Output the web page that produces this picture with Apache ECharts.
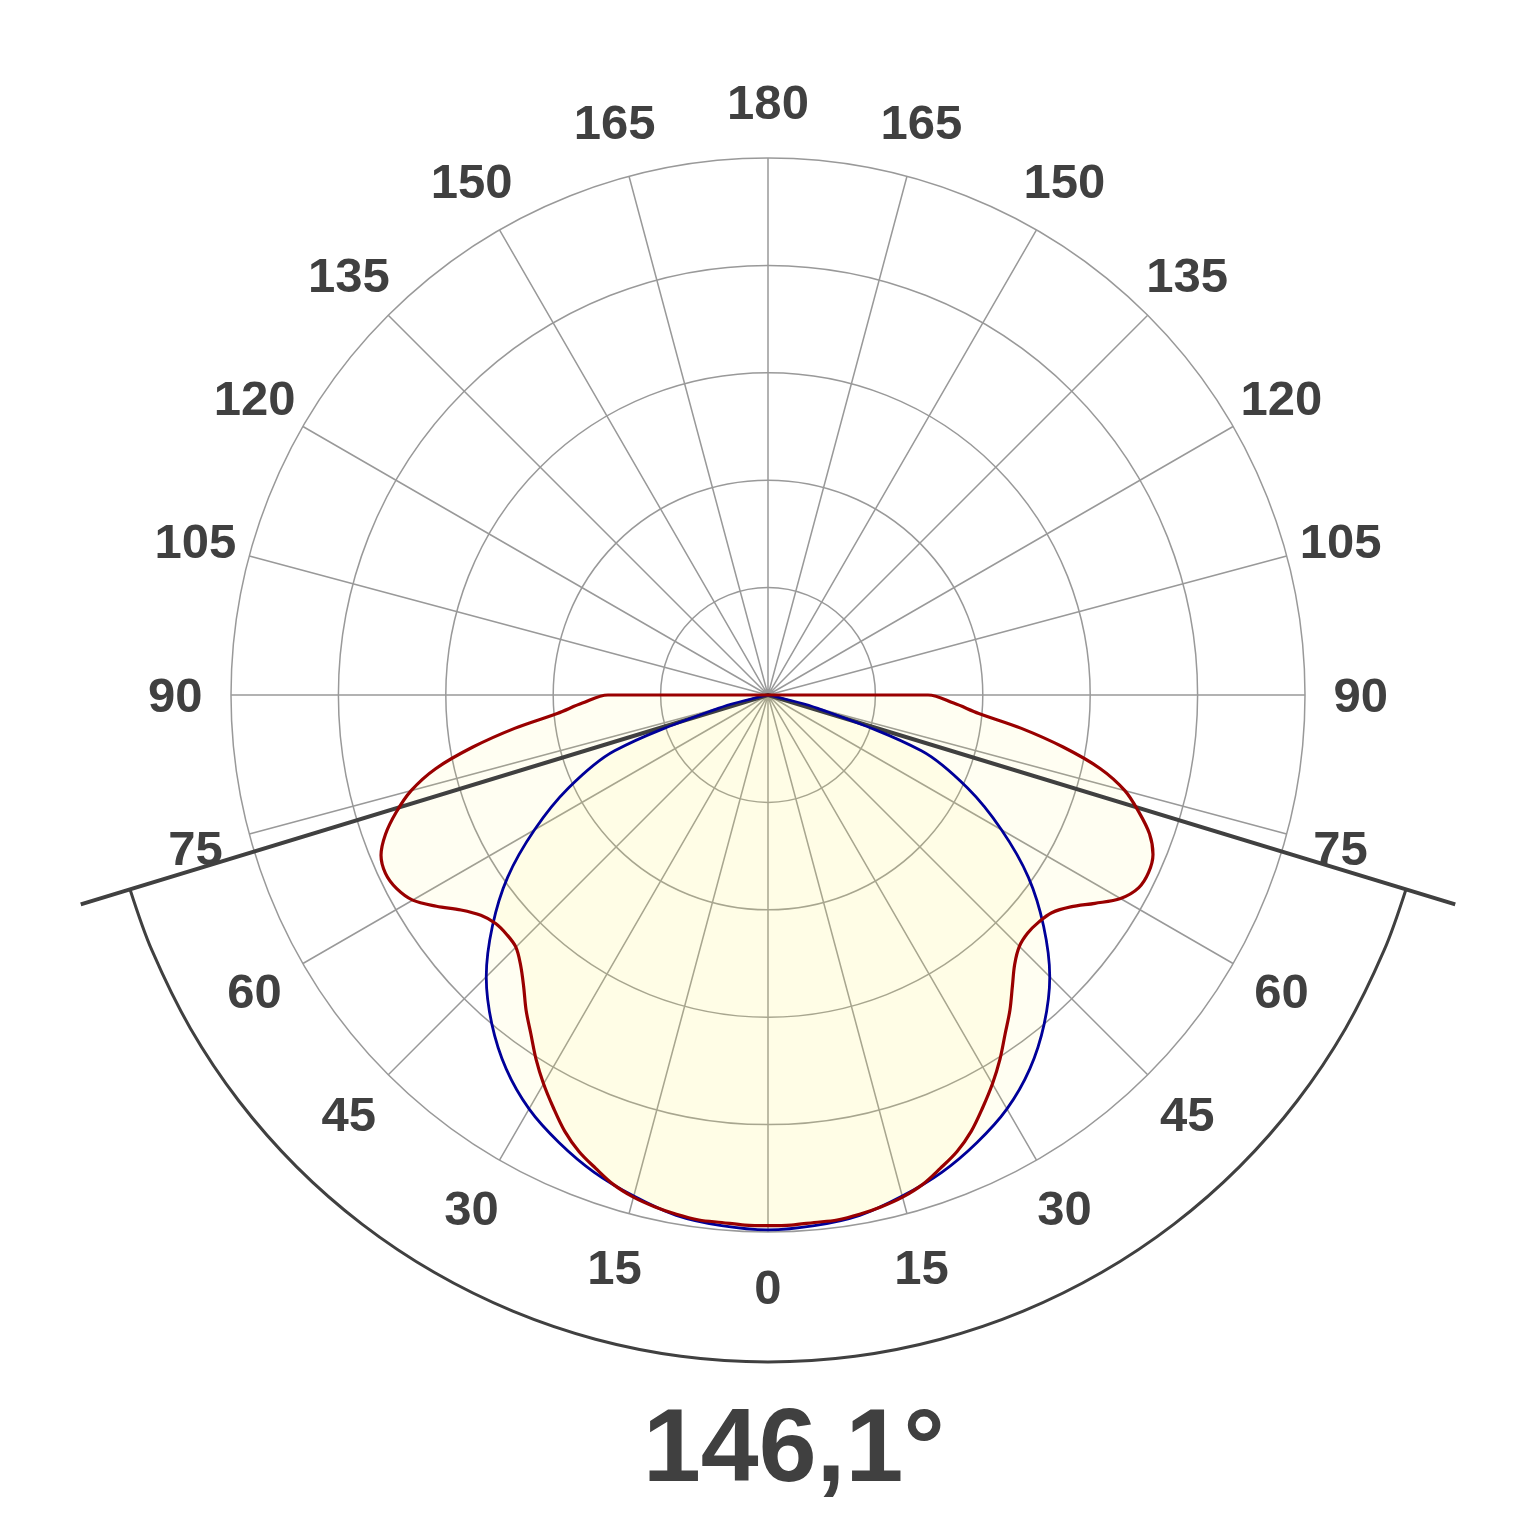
<!DOCTYPE html>
<html>
<head>
<meta charset="utf-8">
<title>光强分布曲线</title>
<script src="https://cdn.jsdelivr.net/npm/echarts@6/dist/echarts.min.js"></script>
<style>
html, body { margin: 0; padding: 0; background: #fff; }
#main { width: 1536px; height: 1536px; }
</style>
</head>
<body>
<div id="main"></div>
<script>
// 光束角
const beamAngle = 146.1

// 红线 C0/C180 平面, gamma 每 2.5°
const gammaRed = [0, 2.5, 5, 7.5, 10, 12.5, 15, 17.5, 20, 22.5, 25, 27.5, 30, 32.5, 35, 37.5, 40, 42.5, 45,
  47.5, 50, 52.5, 55, 57.5, 60, 62.5, 65, 67.5, 70, 72.5, 75, 77.5, 80, 82.5, 85, 87.5, 90]
const c0Values = [494, 494, 493, 493, 491, 488, 484, 478, 469, 460, 448, 433, 418, 402, 385, 370, 354, 341, 332,
  330, 331, 337, 349, 366, 382, 390, 393, 390, 379, 363, 344, 317, 279, 238, 197, 173, 149]
const c180Values = [494, 494, 493, 493, 491, 488, 484, 478, 469, 460, 448, 433, 418, 402, 385, 370, 354, 340, 331,
  328, 329, 333, 344, 361, 379, 389, 391, 388, 378, 362, 344, 317, 279, 238, 197, 173, 149]

// 蓝线 C90/C270 平面, gamma 每 5°
const gammaBlue = [0, 5, 10, 15, 20, 25, 30, 35, 40, 45, 50, 55, 60, 65, 70, 75, 80, 85, 90]
const c90Values = [498, 496, 492, 483, 473, 460, 445, 425, 400, 371, 335, 296, 251, 205, 152, 48, 0, 0, 0]
const c270Values = [498, 496, 492, 483, 473, 460, 445, 425, 400, 371, 335, 296, 251, 205, 152, 48, 0, 0, 0]

// 角度刻度
const angleTicks = [0, 15, 30, 45, 60, 75, 90, 105, 120, 135, 150, 165, 180, 195, 210, 225, 240, 255, 270, 285, 300, 315, 330, 345]
const angleLabels = ['0', '15', '30', '45', '60', '75', '90', '105', '120', '135', '150', '165', '180',
  '165', '150', '135', '120', '105', '90', '75', '60', '45', '30', '15']

const arcRadius = 621 // 光束角弧线
const beamLineLength = 669
const labelRadius = 552

// 左半边角度 = gamma, 右半边角度 = 360 - gamma
function buildCurve(gammas, leftValues, rightValues) {
  let points = [[0, 270]]
  for (let i = gammas.length - 1; i > 0; i--) {
    points.push([rightValues[i], 360 - gammas[i]])
  }
  gammas.forEach((g, i) => {
    points.push([leftValues[i], g])
  })
  points.push([0, 90])
  return points
}

const half = beamAngle / 2
const arcAngles = [360 - half, 292.5, 300, 307.5, 315, 322.5, 330, 337.5, 345, 352.5, 360,
  7.5, 15, 22.5, 30, 37.5, 45, 52.5, 60, 67.5, half]

const gridStyle = { color: '#999', width: 1.5 }
const fillColor = 'rgba(255, 240, 90, 0.11)'

let option = {
  animation: false,
  backgroundColor: '#fff',
  title: {
    text: String(beamAngle).replace('.', ',') + '°',
    left: 643,
    top: 1400,
    padding: 0,
    textStyle: { fontSize: 104, fontWeight: 'bold', color: '#404040', fontFamily: 'Liberation Sans' }
  },
  polar: [
    { center: [768, 695], radius: 537 },
    { center: [768, 695], radius: 719 }
  ],
  angleAxis: [
    {
      polarIndex: 0, type: 'value', min: 0, max: 360, interval: 15,
      startAngle: 270, clockwise: true,
      axisLine: { show: false }, axisTick: { show: false }, axisLabel: { show: false },
      splitLine: { show: true, lineStyle: gridStyle }
    },
    {
      polarIndex: 1, type: 'value', min: 0, max: 360, interval: 15,
      startAngle: 270, clockwise: true, show: false
    }
  ],
  radiusAxis: [
    {
      polarIndex: 0, type: 'value', min: 0, max: 500, interval: 100,
      axisLine: { show: false }, axisTick: { show: false }, axisLabel: { show: false },
      splitLine: { show: true, lineStyle: gridStyle }
    },
    { polarIndex: 1, type: 'value', min: 0, max: 669.5, show: false }
  ],
  series: [
    {
      // 光束角线
      type: 'line', coordinateSystem: 'polar', polarIndex: 1,
      symbol: 'none', silent: true,
      lineStyle: { color: '#404040', width: 4 },
      data: [[beamLineLength, 360 - half], [0, 0], [beamLineLength, half]]
    },
    {
      type: 'line', coordinateSystem: 'polar', polarIndex: 1,
      symbol: 'none', silent: true, smooth: 0.33,
      lineStyle: { color: '#404040', width: 3 },
      data: arcAngles.map(a => [arcRadius, a])
    },
    {
      // 角度标签
      type: 'scatter', coordinateSystem: 'polar', polarIndex: 1,
      symbolSize: 0, silent: true,
      itemStyle: { color: '#404040' },
      label: {
        show: true, position: 'inside', offset: [0, 3],
        formatter: p => angleLabels[p.dataIndex],
        fontSize: 49, fontWeight: 'bold', color: '#404040', opacity: 1,
        textBorderWidth: 0, fontFamily: 'Liberation Sans'
      },
      data: angleTicks.map(a => [labelRadius, a])
    },
    {
      name: 'C90/C270',
      type: 'line', coordinateSystem: 'polar', polarIndex: 0,
      symbol: 'none', smooth: 0.33,
      lineStyle: { color: '#000099', width: 2.8 },
      areaStyle: { color: fillColor },
      data: buildCurve(gammaBlue, c90Values, c270Values)
    },
    {
      name: 'C0/C180',
      type: 'line', coordinateSystem: 'polar', polarIndex: 0,
      symbol: 'none', smooth: 0.33,
      lineStyle: { color: '#990000', width: 3.2 },
      areaStyle: { color: fillColor },
      data: buildCurve(gammaRed, c0Values, c180Values)
    }
  ]
}

let myChart = echarts.init(document.getElementById('main'))
myChart.setOption(option)
</script>
</body>
</html>
